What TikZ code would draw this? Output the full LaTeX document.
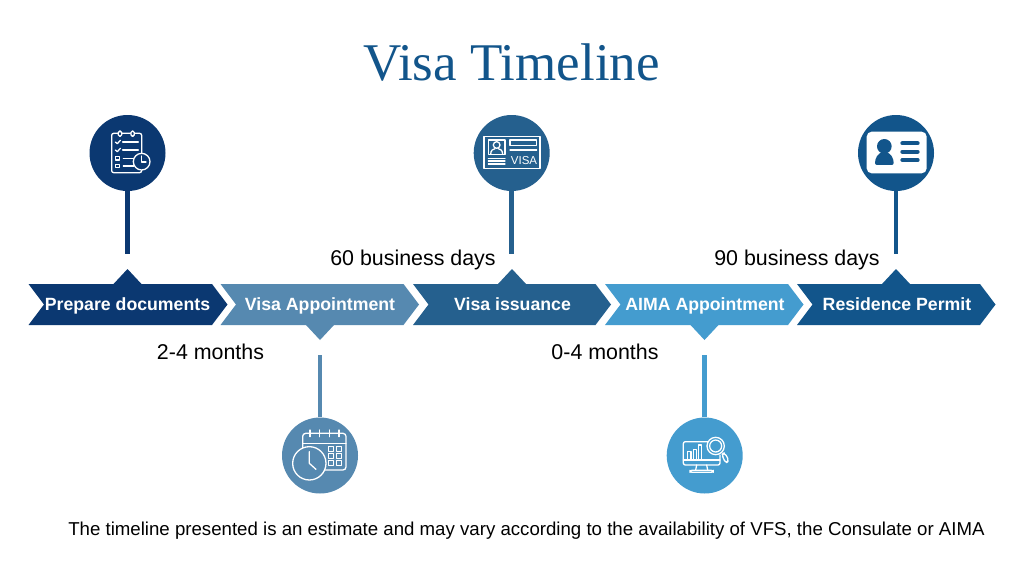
\documentclass[tikz,border=0pt]{standalone}
\usepackage{fontspec}
\setmainfont{Liberation Sans}
\newfontfamily\titlefont{Liberation Serif}
\definecolor{cA}{HTML}{0B3871}
\definecolor{cB}{HTML}{5689B0}
\definecolor{cC}{HTML}{25608E}
\definecolor{cD}{HTML}{449CCF}
\definecolor{cE}{HTML}{12558B}
\newcommand{\chevshape}[5]{% left x, right-top x, tab x, tab dir (-1 up, 1 down), colour
  \fill[#5] (#1,284) -- ({#1+15.5},304.5) -- (#1,325)
    \ifnum#4=1 -- ({#3-14},325) -- (#3,340) -- ({#3+14},325)\fi
    -- (#2,325) -- ({#2+15.5},304.5) -- (#2,284)
    \ifnum#4=-1 -- ({#3+14},284) -- (#3,269) -- ({#3-14},284)\fi
    -- cycle;}
\tikzset{
  dot/.style={circle,minimum size=76pt,inner sep=0pt,fill=#1},
  stem/.style={line width=4.5pt,#1},
  steplabel/.style={text=white,font=\fontsize{17.7}{20}\selectfont\bfseries,inner sep=0pt,anchor=base},
  plainlabel/.style={text=black,font=\fontsize{21.4}{24}\selectfont,inner sep=0pt,anchor=base},
  ico/.style={draw=white,line width=1.3pt,line cap=round,line join=round},
}
\begin{document}
\begin{tikzpicture}[x=1pt,y=-1pt]
\useasboundingbox (0,0) rectangle (1024,576);
\fill[white] (0,0) rectangle (1024,576);
\node[text=cE,font=\titlefont\fontsize{53}{60}\selectfont,inner sep=0pt,anchor=base] (title) at (511.5,80) {Visa Timeline};

\chevshape{28.5}{212}{127.5}{-1}{cA}
\chevshape{220.5}{403.5}{320}{1}{cB}
\chevshape{413}{595.5}{512}{-1}{cC}
\chevshape{605}{788}{704.5}{1}{cD}
\chevshape{797}{980}{896}{-1}{cE}

\node[steplabel] (l1) at (127.5,310) {Prepare documents};
\node[steplabel] (l2) at (320,310) {Visa Appointment};
\node[steplabel] (l3) at (512.5,310) {Visa issuance};
\node[steplabel] (l4) at (705,310) {AIMA Appointment};
\node[steplabel] (l5) at (897,310) {Residence Permit};

\node[dot=cA] (c1) at (127.5,153) {};
\node[dot=cC] (c3) at (511.7,153) {};
\node[dot=cE] (c5) at (896,153) {};
\node[dot=cB] (c2) at (320,455.5) {};
\node[dot=cD] (c4) at (704.7,455.5) {};
\coordinate (s1) at (127.5,254);
\coordinate (s3) at (511.7,254);
\coordinate (s5) at (896,254);
\coordinate (s2) at (320,355);
\coordinate (s4) at (704.7,355);
\draw[stem=cA] (c1.south) -- (s1);
\draw[stem=cC] (c3.south) -- (s3);
\draw[stem=cE] (c5.south) -- (s5);
\draw[stem=cB] (c2.north) -- (s2);
\draw[stem=cD] (c4.north) -- (s4);

\node[plainlabel] (t1) at (413,265) {60 business days};
\node[plainlabel] (t2) at (797,265) {90 business days};
\node[plainlabel] (t3) at (210.5,359.5) {2-4 months};
\node[plainlabel] (t4) at (605,359.5) {0-4 months};
\node[text=black,font=\fontsize{18.65}{20}\selectfont,inner sep=0pt,anchor=base] (note) at (526.5,535.5) {The timeline presented is an estimate and may vary according to the availability of VFS, the Consulate or AIMA};

% checklist icon
\begin{scope}[shift={(70,100)},x=0.3333pt,y=-0.3333pt]
\draw[ico,rounded corners=2pt] (125,100) rectangle (215,218);
\foreach \x in {150,188}{\draw[ico,fill=cA,rounded corners=1.5pt] (\x-5,93) rectangle (\x+5,109);}
\foreach \y in {126,150}{
  \draw[ico] (136,\y) -- (142,\y+5) -- (151,\y-5);
  \draw[ico] (158,\y) -- (205,\y);}
\foreach \y in {175,198}{
  \draw[ico] (136,\y-5) rectangle (148,\y+5);
  \draw[ico] (160,\y) -- (192,\y);}
\draw[ico,fill=cA] (215,185) circle[radius=25];
\draw[ico] (215,168) -- (215,186) -- (228,186);
\end{scope}

% visa icon
\begin{scope}[shift={(460,105)},x=0.3333pt,y=-0.3333pt]
\draw[ico] (72,95) rectangle (240,190);
\draw[ico] (85,105) rectangle (135,148);
\draw[ico] (110,120) circle[radius=10];
\draw[ico] (92,148) .. controls (92,135) and (100,132) .. (105,131);
\draw[ico] (128,148) .. controls (128,135) and (120,132) .. (115,131);
\foreach \y in {160,168,177}{\draw[ico] (85,\y) -- (135,\y);}
\draw[ico] (150,105) rectangle (230,122);
\draw[ico] (150,135) -- (230,135);
\node[text=white,font=\fontsize{11.5}{12}\selectfont,inner sep=0pt] (visa) at (192,168) {VISA};
\end{scope}

% residence card icon
\begin{scope}[shift={(845,105)},x=0.3333pt,y=-0.3333pt]
\fill[white,rounded corners=5pt] (65,80) rectangle (245,205);
\fill[cE] (118,124) circle[radius=22];
\fill[cE,rounded corners=2pt] (90,180) .. controls (90,160) and (98,145) .. (118,140) .. controls (138,145) and (146,160) .. (146,180) -- cycle;
\foreach \y in {115,140,165}{\draw[cE,line width=4pt,line cap=round] (172,\y) -- (218,\y);}
\end{scope}

% calendar icon
\begin{scope}[shift={(270,410)},x=0.3333pt,y=-0.3333pt]
\draw[ico,rounded corners=3pt] (98,180) -- (98,70) -- (228,70) -- (228,180) -- (118,180);
\draw[ico] (98,100) -- (228,100);
\foreach \x in {120,148,178,207}{\draw[ico] (\x,60) -- (\x,80);}
\foreach \x in {183,208}{\foreach \y in {117,137,158}{
  \draw[ico,line width=1pt] (\x-7,\y-7) rectangle (\x+7,\y+7);}}
\draw[ico,fill=cB] (118,160) circle[radius=50];
\draw[ico] (118,125) -- (118,160) -- (138,178);
\end{scope}

% monitor icon
\begin{scope}[shift={(655,410)},x=0.3333pt,y=-0.3333pt]
\draw[ico,rounded corners=2pt] (160,95) -- (85,95) -- (85,165) -- (195,165) -- (195,135);
\draw[ico] (85,150) -- (195,150);
\draw[ico] (98,147) -- (98,125) -- (108,125) -- (108,147);
\draw[ico] (115,147) -- (115,118) -- (125,118) -- (125,147);
\draw[ico] (130,147) -- (130,105) -- (140,105) -- (140,147);
\draw[ico] (125,165) -- (122,180) (155,165) -- (158,180);
\draw[ico,rounded corners=2pt] (105,187) -- (105,181) -- (175,181) -- (175,187) -- cycle;
\draw[ico,fill=cD] (182,108) circle[radius=26];
\draw[ico] (182,108) circle[radius=18];
\draw[ico,rounded corners=3pt] (200,133) -- (209,128) -- (222,152) -- (212,160) -- cycle;
\end{scope}
\end{tikzpicture}
\end{document}
